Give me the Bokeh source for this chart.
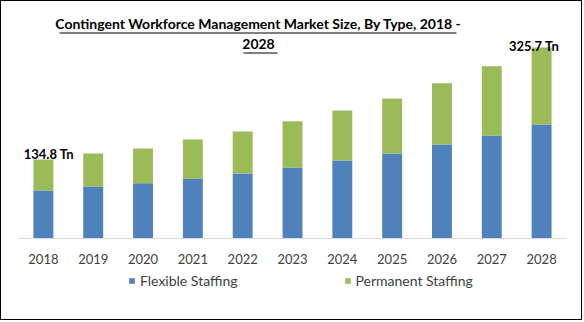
from bokeh.plotting import figure
from bokeh.models import FactorRange, Range1d, Label, BoxAnnotation, Legend, LegendItem, ColumnDataSource
from bokeh.core.properties import value
from bokeh.transform import dodge
from bokeh.embed import file_html
from bokeh.resources import INLINE

years = ["2018", "2019", "2020", "2021", "2022", "2023", "2024", "2025", "2026", "2027", "2028"]
flexible = [81.9, 88.7, 94.3, 102.3, 110.8, 121.0, 133.0, 145.0, 160.3, 175.6, 194.4]
totals = [134.8, 145.0, 153.5, 168.8, 182.5, 200.0, 218.3, 238.7, 264.8, 293.8, 325.7]
permanent = [round(t - f, 1) for t, f in zip(totals, flexible)]
series = ["Flexible Staffing", "Permanent Staffing"]
colors = ["#4F81BD", "#9BBB59"]
title_lines = ["Contingent Workforce Management Market Size, By Type, 2018 -", "2028"]

FONT = "Lato"

source = ColumnDataSource(dict(year=years, flex=flexible, perm=permanent, total=totals,
                               base=[0] * len(years)))

p = figure(
    width=582, height=320,
    x_range=FactorRange(*years, range_padding=0.341, range_padding_units="absolute"),
    y_range=Range1d(-141.5, 404.1),
    output_backend="svg", toolbar_location=None,
    min_border=0,
)
p.styles = {"border": "1px solid #000000"}
p.outline_line_color = None
p.xgrid.visible = False
p.ygrid.visible = False
p.xaxis.visible = False
p.yaxis.visible = False
p.background_fill_color = "white"
p.border_fill_color = "white"

rs = p.vbar_stack(["flex", "perm"], x="year", width=0.4, source=source,
                  color=colors, line_color=None)

# category axis: baseline and year labels
ends = ColumnDataSource(dict(x0=[years[0]], x1=[years[-1]], y=[0]))
p.segment(x0=dodge("x0", -0.5, range=p.x_range), x1=dodge("x1", 0.5, range=p.x_range),
          y0="y", y1="y", source=ends, line_color="#D9D9D9", line_width=1)
p.text(x="year", y="base", text="year", source=source, y_offset=20,
       text_font=value(FONT), text_font_size="13px", text_color="#404040",
       text_align="center", text_baseline="middle")

# value labels on first and last bars
first = ColumnDataSource(dict(x=[years[0]], y=[totals[0]], t=[f"{totals[0]}  Tn"]))
last = ColumnDataSource(dict(x=[years[-1]], y=[totals[-1]], t=[f"{totals[-1]}  Tn"]))
for src, xo, yo in ((first, 7, -5), (last, -6, -1)):
    p.text(x="x", y="y", text="t", source=src, x_offset=xo, y_offset=yo,
           text_font=value(FONT), text_font_size="13px", text_font_style="bold",
           text_color="#000000", text_align="center", text_baseline="alphabetic")

# title
for line, yy in zip(title_lines, [298, 278]):
    p.add_layout(Label(x=257, y=yy, x_units="screen", y_units="screen", text=line,
                       text_font=FONT, text_font_size="14px", text_font_style="bold",
                       text_color="#000000", text_align="center", text_baseline="middle"))
for l, r, b in ((58, 455, 288), (242, 276, 268)):
    p.add_layout(BoxAnnotation(left=l, right=r, bottom=b, top=b + 1, left_units="screen",
                               right_units="screen", bottom_units="screen", top_units="screen",
                               fill_color="black", fill_alpha=1, line_color=None))

legend = Legend(items=[LegendItem(label=s, renderers=[r]) for s, r in zip(series, rs)],
                orientation="horizontal", location=(127, 32),
                glyph_width=7, glyph_height=7, label_standoff=5, spacing=106,
                padding=0, margin=0, border_line_color=None, background_fill_alpha=0,
                label_text_font=FONT, label_text_font_size="14px", label_text_color="#404040")
p.add_layout(legend, "center")

open("out.html", "w").write(file_html(p, INLINE))
